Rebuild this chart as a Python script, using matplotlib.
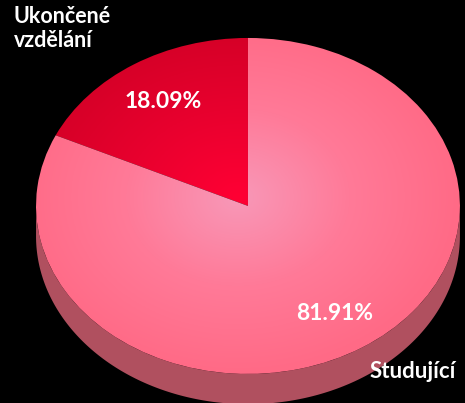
import numpy as np
import matplotlib.pyplot as plt
from matplotlib.colors import LinearSegmentedColormap
from matplotlib.patches import Polygon

# data
labels = ['Ukončené\nvzdělání', 'Studující']
values = [18.09, 81.91]
pct_labels = ['18.09%', '81.91%']

plt.rcParams['font.family'] = ['Lato', 'DejaVu Sans']

fig = plt.figure(figsize=(4.65, 4.03), dpi=100, facecolor='black')
ax = fig.add_axes([0, 0, 1, 1])
ax.set_facecolor('black')

wedges, _ = ax.pie(values, startangle=90, counterclock=True, radius=1,
                   center=(0, 0), wedgeprops=dict(linewidth=0))
ax.set_aspect('auto')

# side band of the 3D disc
depth = 0.18
t = np.linspace(np.pi, 2 * np.pi, 200)
top = np.column_stack([np.cos(t), np.sin(t)])
bottom = np.column_stack([np.cos(t[::-1]), np.sin(t[::-1]) - depth])
side = Polygon(np.vstack([top, bottom]), closed=True, facecolor='#b0505f',
               edgecolor='none', zorder=0)
ax.add_patch(side)

# gradient fills, clipped to the slices
xx, yy = np.meshgrid(np.linspace(-1.2, 1.2, 400), np.linspace(-1.2, 1.2, 400))
dist = np.sqrt((xx + 0.05) ** 2 + (yy - 0.05) ** 2)
pink_cmap = LinearSegmentedColormap.from_list('pink', ['#f898b8', '#ff7a98', '#ff6a86'])
red_cmap = LinearSegmentedColormap.from_list('red', ['#ff0034', '#e8002e', '#d20026'])
cmaps = [red_cmap, pink_cmap]
for w, cm in zip(wedges, cmaps):
    w.set_facecolor('none')
    im = ax.imshow(dist, extent=(-1.2, 1.2, -1.2, 1.2), origin='lower',
                   cmap=cm, vmin=0, vmax=1.05, aspect='auto', zorder=1,
                   interpolation='bilinear')
    im.set_clip_path(w)

# squash the pie into an ellipse (tilted look)
ax.set_xlim(-1.170, 1.024)
ax.set_ylim(-1.173, 1.226)
ax.axis('off')

# labels
ax.text(0.03, 0.985, labels[0], transform=ax.transAxes, color='white',
        fontsize=15.5, fontweight='bold', ha='left', va='top', linespacing=1.2)
ax.text(0.795, 0.077, labels[1], transform=ax.transAxes, color='white',
        fontsize=16, fontweight='bold', ha='left', va='center')
ax.text(-0.40, 0.62, pct_labels[0], color='white', fontsize=16.5,
        fontweight='bold', ha='center', va='center', zorder=3)
ax.text(0.41, -0.64, pct_labels[1], color='white', fontsize=16.5,
        fontweight='bold', ha='center', va='center', zorder=3)

fig.savefig('out.png', dpi=100, facecolor='black')
